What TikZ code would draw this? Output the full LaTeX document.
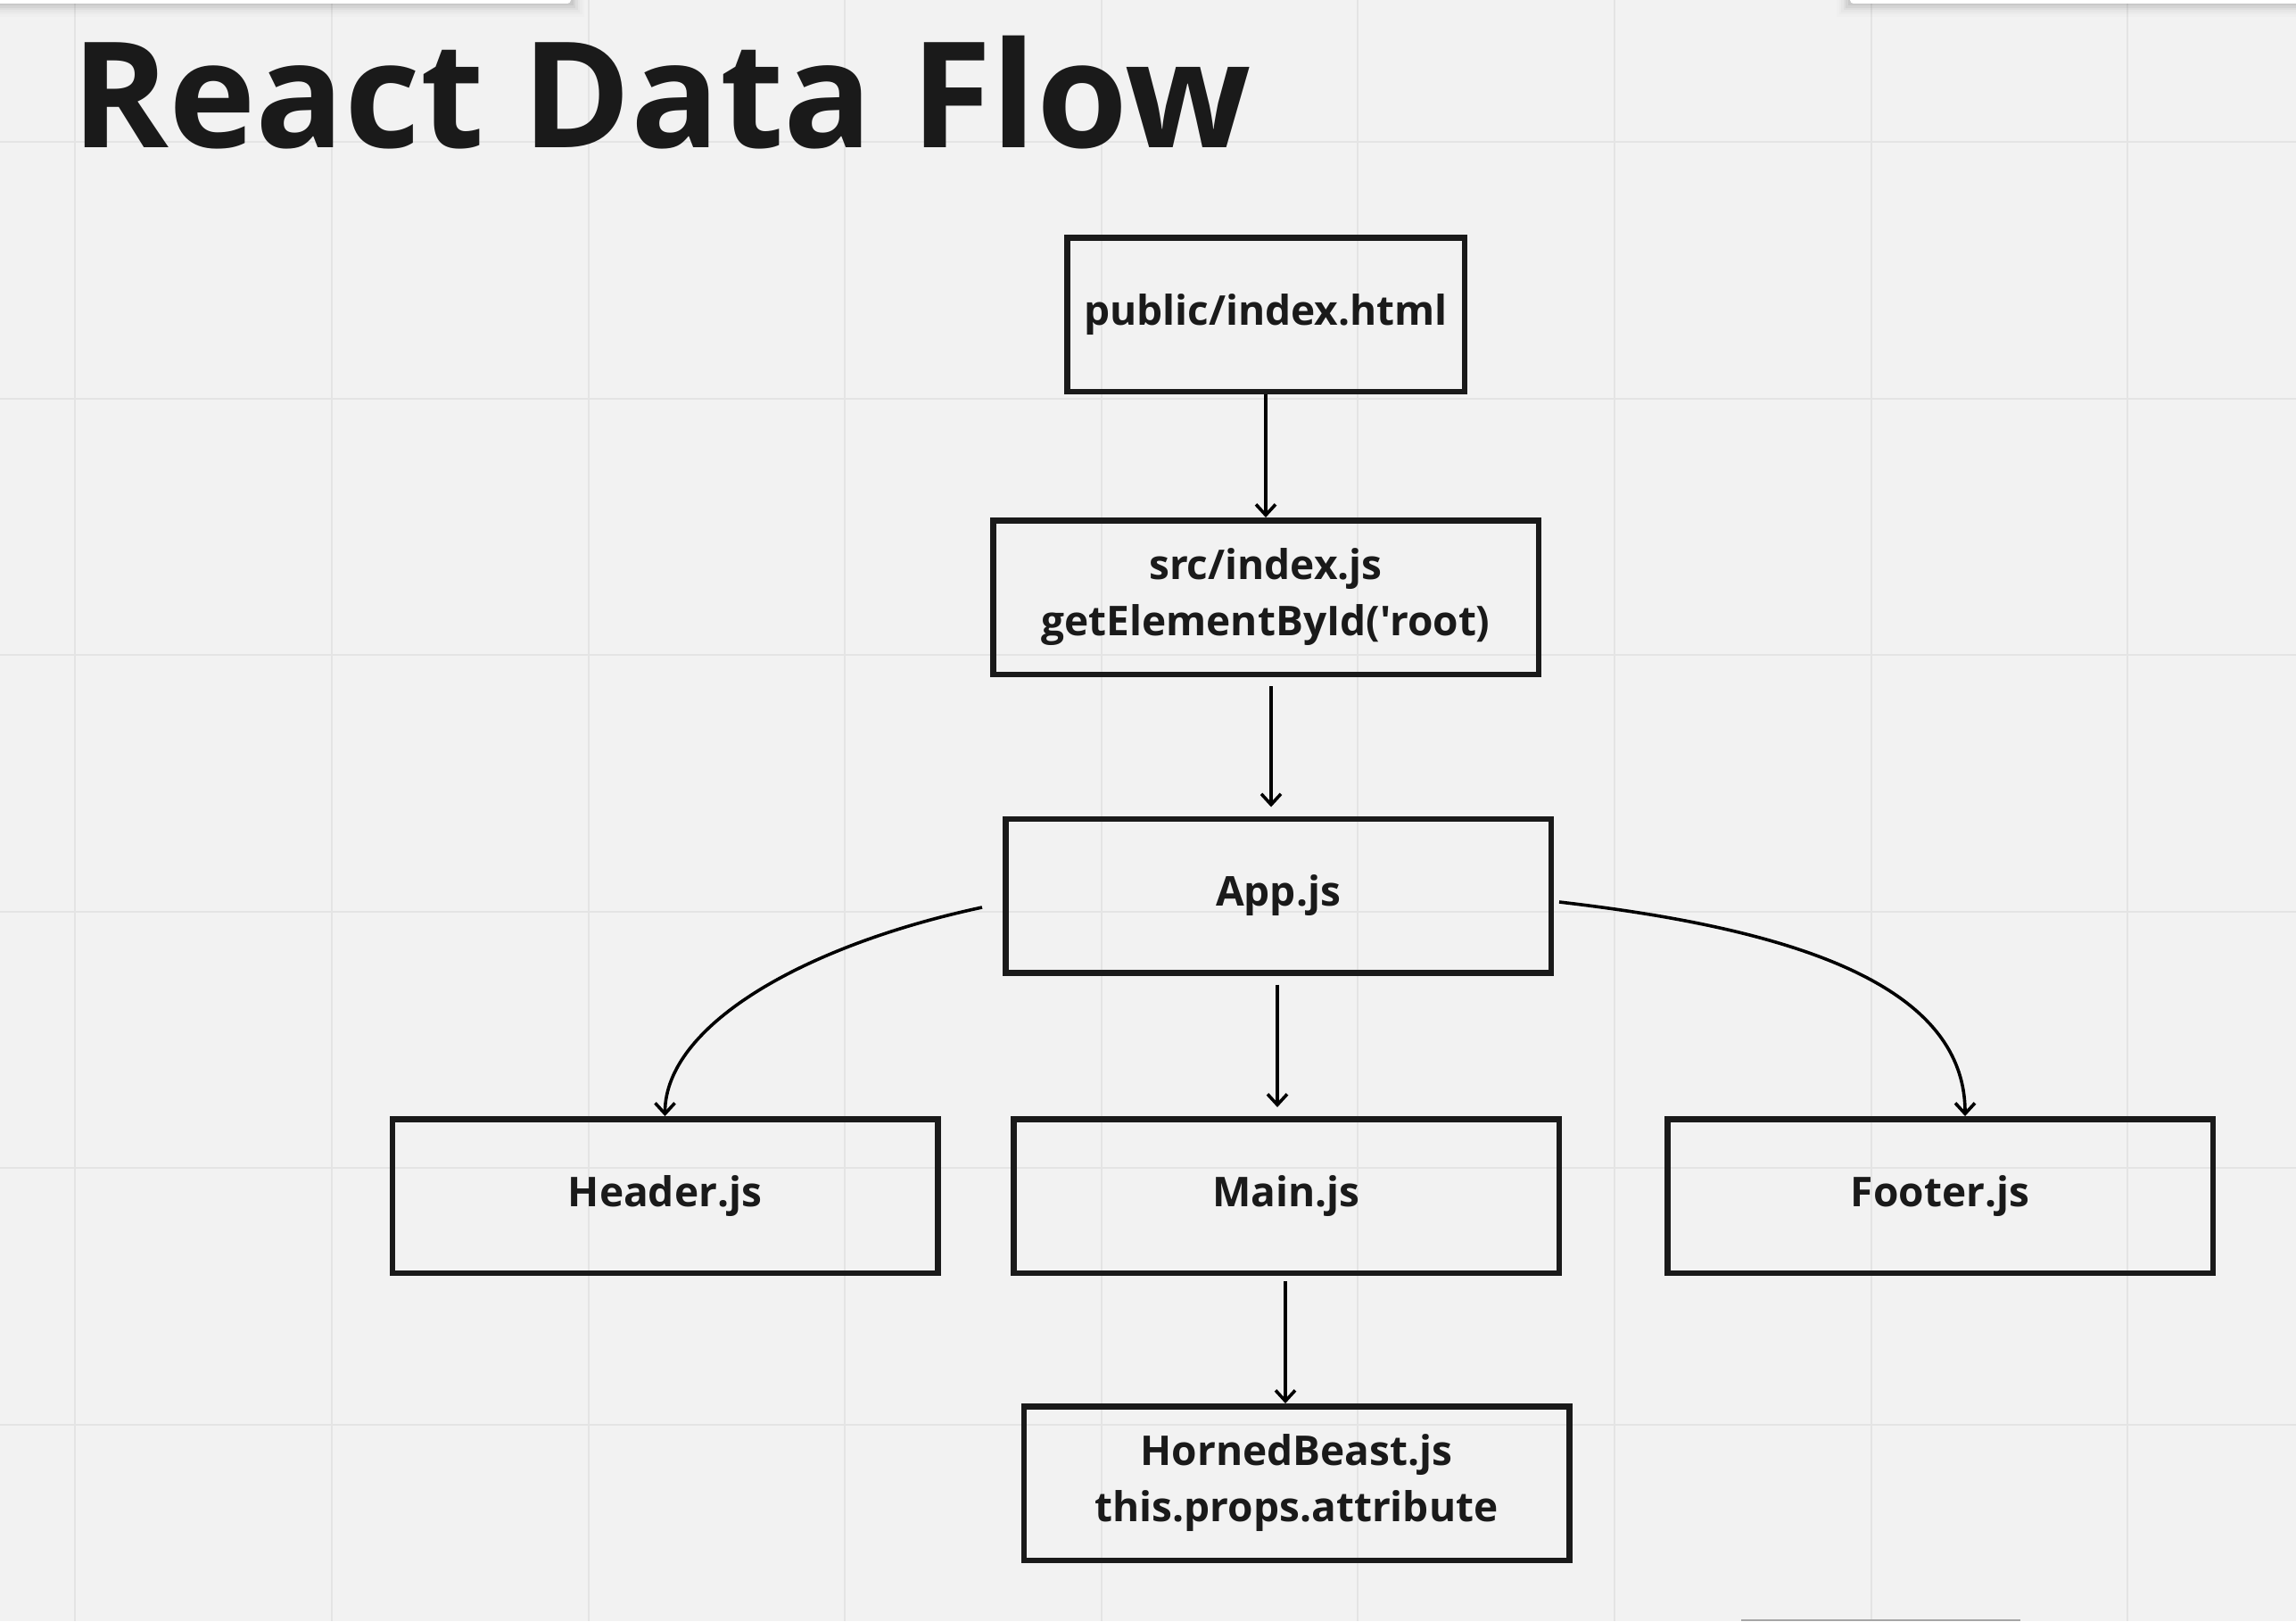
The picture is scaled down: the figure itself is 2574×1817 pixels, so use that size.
\documentclass[tikz,border=0pt]{standalone}
\usepackage{fontspec}
\setmainfont{Open Sans}
\newfontfamily\osfont{Open Sans}
\usetikzlibrary{arrows.meta,calc}
\definecolor{bg}{HTML}{F2F2F2}
\definecolor{gridc}{HTML}{E4E4E4}
\definecolor{ink}{HTML}{1A1A1A}
\tikzset{
  box/.style={draw=ink, line width=6.5pt, minimum width=611.5pt, minimum height=172.5pt,
    inner sep=0pt, align=center, text=ink, font=\osfont\fontsize{46}{63}\selectfont\bfseries},
  arr/.style={draw=black, line width=3.6pt, -{Straight Barb[length=12pt,width=22pt]}},
  gridline/.style={draw=gridc, line width=2pt},
}
\begin{document}
\begin{tikzpicture}[x=1pt,y=-1pt]
\useasboundingbox (0,0) rectangle (2574,1817);
\fill[bg] (0,0) rectangle (2574,1817);
% grid
\foreach \gx in {84.4,372,659.6,947.2,1234.8,1522.4,1810,2097.6,2385.2}
  \draw[gridline] (\gx,0) -- (\gx,1817);
\foreach \gy in {159,446.6,734.2,1021.8,1309.4,1597}
  \draw[gridline] (0,\gy) -- (2574,\gy);
% toolbars at the edges
\foreach \k/\op in {1/0.05,2/0.04,3/0.03,4/0.02,5/0.015,6/0.01}{
  \fill[black,opacity=\op] (0,0) rectangle (640+2.5*\k,4+2.5*\k);
  \fill[black,opacity=\op] (2074-2.5*\k,0) rectangle (2574,4+2.5*\k);
}
\fill[white,rounded corners=4pt] (-10,-10) rectangle (640,4);
\fill[white,rounded corners=4pt] (2074,-10) rectangle (2584,4);
\fill[gray!70] (1952,1814.5) rectangle (2265,1817);
% title
\node[anchor=base west, inner sep=0pt, text=ink, font=\osfont\fontsize{165}{190}\selectfont\bfseries] (title) at (80,165) {React Data Flow};
% boxes
\node[box, minimum width=445.5pt] (pub) at (1419,352.5) {public/index.html};
\node[box] (src) at (1419,669.5) {src/index.js\\getElementById('root)};
\node[box] (app) at (1433,1004) {App.js};
\node[box] (header) at (745.5,1340.5) {Header.js};
\node[box] (main) at (1442,1340.5) {Main.js};
\node[box] (footer) at (2175,1340.5) {Footer.js};
\node[box] (horned) at (1453.5,1662.5) {HornedBeast.js\\this.props.attribute};
% connectors
\draw[arr] (pub.south) -- (src.north);
\draw[arr, shorten <=10pt, shorten >=10pt] ([xshift=6pt]src.south) -- ([xshift=-8pt]app.north);
\draw[arr, shorten <=10pt, shorten >=10pt] ([xshift=-1pt]app.south) -- ([xshift=-10pt]main.north);
\draw[arr, shorten <=6pt] ([xshift=-1pt]main.south) -- ([xshift=-12.5pt]horned.north);
\draw[arr] ($(app.west)+(-23,13)$) .. controls ($(app.west)+(-224,56)$) and ($(header.north)+(0,-101)$) .. (header.north);
\draw[arr] ($(app.east)+(6,7)$) .. controls ($(app.east)+(258,36)$) and ($(footer.north)+(28,-151)$) .. ($(footer.north)+(28,0)$);
\end{tikzpicture}
\end{document}
